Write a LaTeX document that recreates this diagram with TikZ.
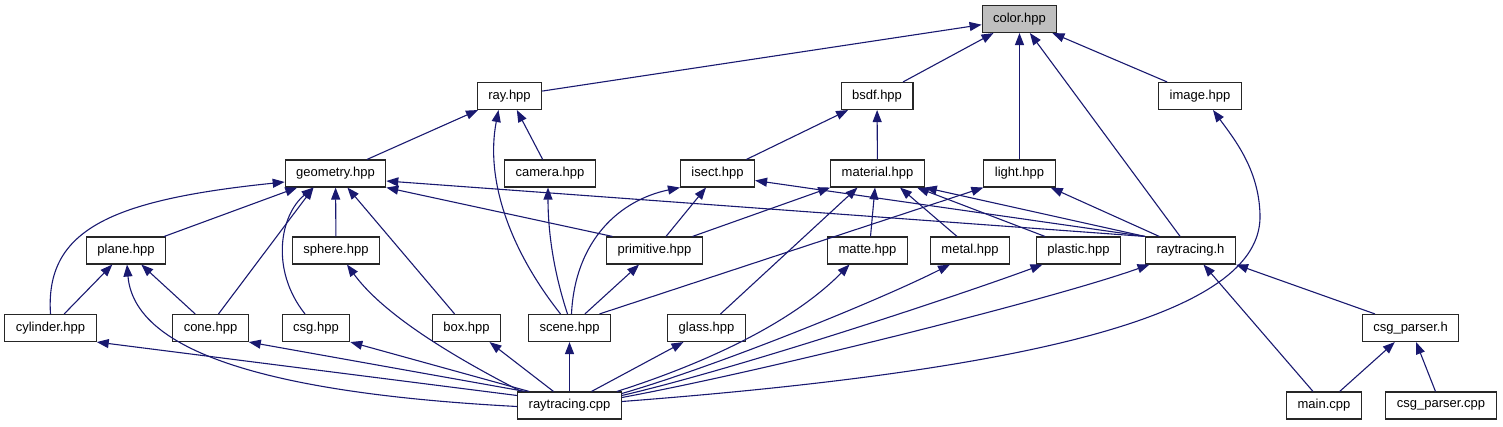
\documentclass[tikz,border=0pt]{standalone}
\usepackage{fontspec}
\setmainfont{Liberation Sans}
\usepackage{tikz}
\usetikzlibrary{arrows.meta}
\definecolor{linkblue}{HTML}{191970}
\definecolor{focusgray}{HTML}{BFBFBF}

\begin{document}
\begin{tikzpicture}[
  x=1pt, y=-1pt,
  font=\fontsize{13}{15}\selectfont,
  file/.style={
    draw=black!85,
    line width=1.1pt,
    fill=white,
    inner xsep=11pt,
    inner ysep=0pt,
    minimum height=27pt
  },
  focus/.style={file, fill=focusgray},
  inc/.style={-{Triangle[length=12pt,width=9pt]}, line width=1.1pt, draw=linkblue}
]
  \useasboundingbox (0,0) rectangle (1503,427);

  \node[focus] (color) at (1019.5,19) {color.hpp};
  \node[file] (ray) at (509.5,96) {ray.hpp};
  \node[file] (bsdf) at (877,96) {bsdf.hpp};
  \node[file] (image) at (1200,96) {image.hpp};
  \node[file] (geometry) at (335.5,173.5) {geometry.hpp};
  \node[file] (camera) at (550,173.5) {camera.hpp};
  \node[file] (isect) at (717.5,173.5) {isect.hpp};
  \node[file] (material) at (877.5,173.5) {material.hpp};
  \node[file] (light) at (1019.5,173.5) {light.hpp};
  \node[file] (plane) at (126,250.5) {plane.hpp};
  \node[file] (sphere) at (336,250.5) {sphere.hpp};
  \node[file] (primitive) at (654.5,250.5) {primitive.hpp};
  \node[file] (matte) at (867.5,250.5) {matte.hpp};
  \node[file] (metal) at (970,250.5) {metal.hpp};
  \node[file] (plastic) at (1078.5,250.5) {plastic.hpp};
  \node[file] (rth) at (1190.5,250.5) {raytracing.h};
  \node[file] (cylinder) at (50.5,328) {cylinder.hpp};
  \node[file] (cone) at (210.5,328) {cone.hpp};
  \node[file] (csg) at (316,328) {csg.hpp};
  \node[file] (box) at (466.5,328) {box.hpp};
  \node[file] (scene) at (569.5,328) {scene.hpp};
  \node[file] (glass) at (706.5,328) {glass.hpp};
  \node[file] (cph) at (1410.5,328) {csg\_parser.h};
  \node[file] (rtcpp) at (569.5,405.5) {raytracing.cpp};
  \node[file] (main) at (1324,405.5) {main.cpp};
  \node[file] (cpcpp) at (1441,405.5) {csg\_parser.cpp};

  \draw[inc] (ray) -- (color);
  \draw[inc] (bsdf) -- (color);
  \draw[inc] (light) -- (color);
  \draw[inc] (rth) -- (color);
  \draw[inc] (image) -- (color);
  \draw[inc] (geometry) -- (ray);
  \draw[inc] (camera) -- (ray);
  \draw[inc] ([xshift=-9pt]scene.north) .. controls (510,250) and (485,180) .. ([xshift=-11pt]ray.south);
  \draw[inc] (isect) -- (bsdf);
  \draw[inc] (material) -- (bsdf);
  \draw[inc] ([yshift=4pt]rtcpp.east) .. controls (1100,365) and (1262,300) .. (1260,215)
    .. controls (1259,170) and (1235,140) .. ([xshift=13pt]image.south);

  \draw[inc] (plane) -- (geometry);
  \draw[inc] (cylinder.north) .. controls (45,230) and (110,200) .. ([yshift=-8.5pt]geometry.west);
  \draw[inc] ([xshift=8pt]cone.north) -- ([xshift=-22pt]geometry.south);
  \draw[inc] ([xshift=-11pt]csg.north) .. controls (270,270) and (280,215) .. ([xshift=-22pt]geometry.south);
  \draw[inc] (sphere) -- (geometry);
  \draw[inc] (box) -- (geometry);
  \draw[inc] ([xshift=-42pt]primitive.north) -- (geometry.south east);
  \draw[inc] (rth.north west) -- ([yshift=-7.5pt]geometry.east);
  \draw[inc] ([xshift=-2pt]scene.north) .. controls (553,270) and (548,230) .. ([xshift=-2pt]camera.south);

  \draw[inc] (primitive) -- (isect);
  \draw[inc] ([xshift=2pt]scene.north) .. controls (575,240) and (620,200) .. (isect.south west);
  \draw[inc] (rth.north west) -- ([yshift=-7pt]isect.east);
  \draw[inc] ([xshift=38pt]primitive.north) -- (material.south west);
  \draw[inc] ([xshift=14pt]glass.north) -- ([xshift=-20pt]material.south);
  \draw[inc] ([xshift=3pt]matte.north) -- ([xshift=-2.5pt]material.south);
  \draw[inc] ([xshift=-13pt]metal.north) -- ([xshift=22.5pt]material.south);
  \draw[inc] ([xshift=-33.5pt]plastic.north) -- ([xshift=39.5pt]material.south);
  \draw[inc] (rth.north west) -- (material.south east);
  \draw[inc] ([xshift=30pt]scene.north) -- (light.south west);
  \draw[inc] (rth) -- (light);

  \draw[inc] (cylinder) -- (plane);
  \draw[inc] (cone) -- (plane);
  \draw[inc] ([yshift=-1pt]rtcpp.west) .. controls (300,395) and (135,360) .. ([xshift=1pt]plane.south);
  \draw[inc] (scene) -- (primitive);

  \draw[inc] ([yshift=10pt]rtcpp.west) -- (cylinder.south east);
  \draw[inc] ([xshift=8pt]rtcpp.north west) -- (cone.south east);
  \draw[inc] ([xshift=12pt]rtcpp.north west) -- (csg.south east);
  \draw[inc] ([xshift=4pt]rtcpp.north west) .. controls (440,350) and (380,310) .. ([xshift=11pt]sphere.south);
  \draw[inc] ([xshift=-16pt]rtcpp.north) -- ([xshift=23pt]box.south);
  \draw[inc] (rtcpp) -- (scene);
  \draw[inc] ([xshift=22pt]rtcpp.north) -- ([xshift=-23pt]glass.south);
  \draw[inc] ([xshift=-5pt]rtcpp.north east) .. controls (700,365) and (790,325) .. ([xshift=-18pt]matte.south);
  \draw[inc] ([yshift=12pt]rtcpp.east) .. controls (720,365) and (880,300) .. ([xshift=-20pt]metal.south);
  \draw[inc] ([yshift=10pt]rtcpp.east) .. controls (740,368) and (960,295) .. ([xshift=-36pt]plastic.south);
  \draw[inc] ([yshift=8pt]rtcpp.east) .. controls (760,372) and (1050,300) .. ([xshift=-41pt]rth.south);

  \draw[inc] ([xshift=-35.5pt]cph.north) -- (rth.south east);
  \draw[inc] ([xshift=-11pt]main.north) -- ([xshift=13pt]rth.south);
  \draw[inc] (main) -- (cph);
  \draw[inc] (cpcpp) -- (cph);
\end{tikzpicture}
\end{document}
